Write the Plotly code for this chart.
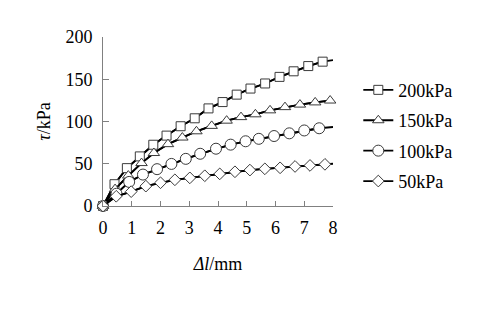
import plotly.graph_objects as go

# Data
x_200 = [0, 0.40, 0.83, 1.28, 1.75, 2.21, 2.70, 3.19, 3.67, 4.16, 4.65, 5.13, 5.64, 6.14, 6.63, 7.14, 7.64]
y_200 = [0, 25.8, 44.8, 58.7, 72.5, 83.3, 94.4, 103.8, 115.5, 123.0, 131.8, 139.0, 145.0, 152.8, 159.4, 165.6, 170.8]
end_200 = 172.6

x_150 = [0, 0.42, 0.88, 1.34, 1.77, 2.26, 2.76, 3.25, 3.78, 4.30, 4.80, 5.30, 5.81, 6.33, 6.85, 7.38, 7.90]
y_150 = [0, 20.0, 36.0, 50.8, 62.7, 73.2, 81.0, 88.4, 94.8, 101.0, 105.2, 108.5, 113.2, 117.0, 120.0, 122.6, 124.8]
end_150 = 125.2

x_100 = [0, 0.47, 0.91, 1.39, 1.88, 2.38, 2.88, 3.38, 3.93, 4.44, 4.96, 5.42, 5.95, 6.48, 7.00, 7.52]
y_100 = [0, 14.5, 28.5, 37.2, 43.6, 49.8, 55.8, 61.8, 67.8, 72.6, 76.6, 79.5, 82.8, 86.0, 89.4, 92.0]
end_100 = 93.5

x_50 = [0, 0.46, 0.98, 1.49, 2.00, 2.50, 3.02, 3.54, 4.06, 4.59, 5.11, 5.63, 6.16, 6.68, 7.20, 7.72]
y_50 = [0, 11.5, 17.0, 23.5, 27.5, 31.0, 33.3, 35.8, 38.0, 40.5, 42.5, 44.0, 45.2, 46.8, 48.0, 49.3]
end_50 = 50.0

x_end = 8
names = ["200kPa", "150kPa", "100kPa", "50kPa"]
symbols = ["square", "triangle-up", "circle", "diamond"]
sizes = [9, 10, 11, 9]
x_tick_vals = [0, 1, 2, 3, 4, 5, 6, 7, 8]
y_tick_vals = [0, 50, 100, 150, 200]

series = [
    (x_200, y_200, end_200),
    (x_150, y_150, end_150),
    (x_100, y_100, end_100),
    (x_50, y_50, end_50),
]

FONT = "Liberation Serif, Times New Roman, serif"
fig = go.Figure()

for i, (xs, ys, ye) in enumerate(series):
    fig.add_trace(go.Scatter(
        x=xs + [x_end], y=ys + [ye], mode="lines",
        line=dict(color="black", width=1.8),
        showlegend=False, hoverinfo="skip", cliponaxis=False,
    ))
for i, (xs, ys, ye) in enumerate(series):
    fig.add_trace(go.Scatter(
        x=xs, y=ys, mode="lines+markers", name=names[i],
        legendgroup=names[i],
        line=dict(color="black", width=1.8),
        marker=dict(symbol=symbols[i], size=sizes[i], color="white",
                    line=dict(color="#3a3a3a", width=1)),
        cliponaxis=False,
    ))

fig.update_layout(
    width=480, height=311,
    margin=dict(l=95, r=155, t=29, b=113),
    paper_bgcolor="white", plot_bgcolor="white",
    font=dict(family=FONT, size=18, color="black"),
    showlegend=True,
    legend=dict(
        x=1.11, y=0.795, xanchor="left", yanchor="top",
        font=dict(family=FONT, size=18, color="black"),
        tracegroupgap=4, traceorder="grouped",
        bgcolor="rgba(0,0,0,0)", itemwidth=30,
    ),
)
fig.update_xaxes(
    range=[0, 8], tickvals=x_tick_vals, ticks="inside", ticklen=5,
    tickcolor="#808080", showline=True, linecolor="#808080", linewidth=1,
    showgrid=False, zeroline=False, tickfont=dict(family=FONT, size=18),
    ticklabelstandoff=5, automargin=False,
    title=dict(text="<i>Δl</i>/mm", font=dict(family=FONT, size=18), standoff=20),
)
fig.update_yaxes(
    range=[0, 200], tickvals=y_tick_vals, ticks="inside", ticklen=6,
    tickcolor="#808080", showline=True, linecolor="#808080", linewidth=1,
    showgrid=False, zeroline=False, tickfont=dict(family=FONT, size=18),
    ticklabelstandoff=6, automargin=False,
    title=dict(text="<i>τ</i>/kPa", font=dict(family=FONT, size=18), standoff=10),
)

fig.write_html("out.html")
